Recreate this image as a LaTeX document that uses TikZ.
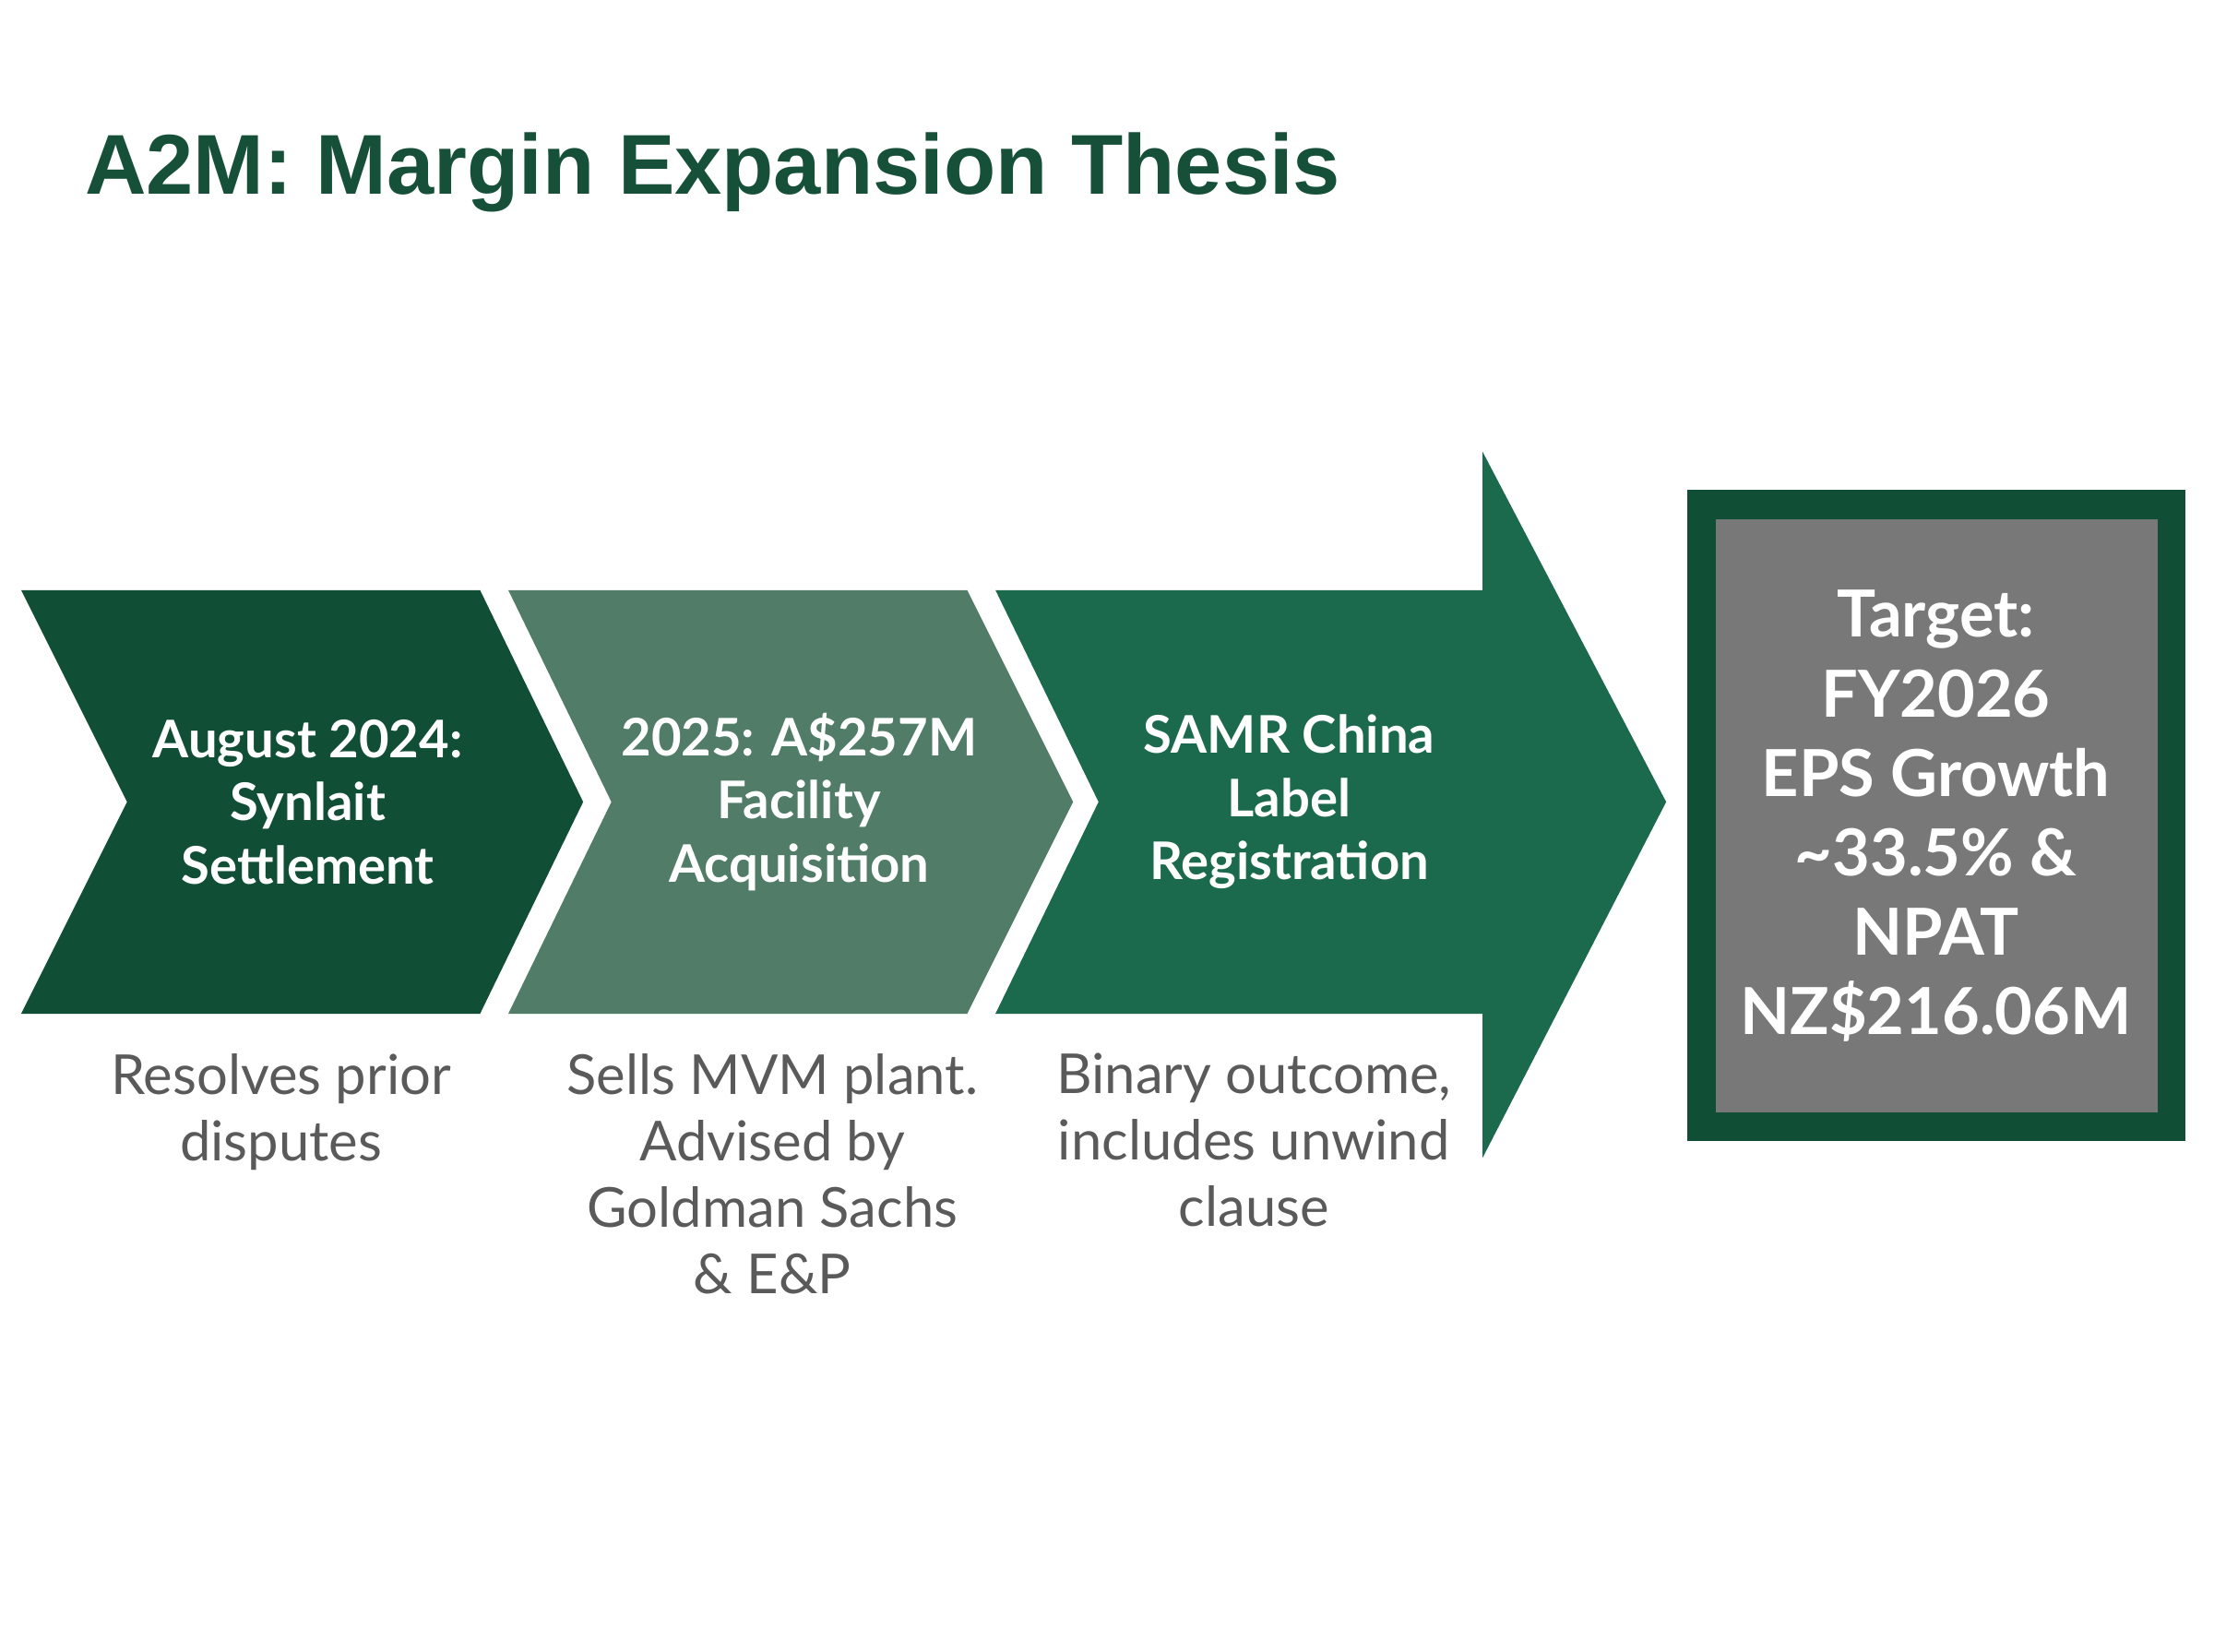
\documentclass[tikz,border=0pt]{standalone}
\usepackage{fontspec}
\setmainfont{Lato}
\newfontfamily\titlefont{Liberation Sans}
\usetikzlibrary{positioning,calc}
\definecolor{mydark}{RGB}{16,78,54}
\definecolor{mymid}{RGB}{80,124,104}
\definecolor{myarrow}{RGB}{27,106,77}
\definecolor{mytitle}{RGB}{22,80,56}
\definecolor{mygray}{RGB}{120,120,120}
\definecolor{mytext}{RGB}{90,90,90}
\begin{document}
\begin{tikzpicture}[x=0.0153cm,y=-0.0153cm,
	steplabel/.style={text=white,font=\bfseries\fontsize{16}{19.5}\selectfont,align=center},
	notelabel/.style={text=mytext,font=\fontsize{17}{20.5}\selectfont,align=center},
	targetlabel/.style={text=white,font=\bfseries\fontsize{20}{24.5}\selectfont,align=center},
	]
	\useasboundingbox (0,0) rectangle (1568,1170);

	% title
	\node[anchor=west,text=mytitle,font=\titlefont\bfseries\fontsize{26.2}{32}\selectfont] (title) at (52,122) {A2M: Margin Expansion Thesis};

	% the chevrons
	\fill[mydark] (15,418) -- (340,418) -- (413,568) -- (340,718) -- (15,718) -- (90,568) -- cycle;
	\fill[mymid] (360,418) -- (685,418) -- (760,568) -- (685,718) -- (360,718) -- (433,568) -- cycle;
	\fill[myarrow] (705,418) -- (1050,418) -- (1050,320) -- (1180,568) -- (1050,820) -- (1050,718) -- (705,718) -- (778,568) -- cycle;

	\node[steplabel] (s1) at (218,568) {August 2024:\\Synlait\\Settlement};
	\node[steplabel] (s2) at (566,568) {2025: A\$257M\\Facility\\Acquisition};
	\node[steplabel] (s3) at (913,568) {SAMR China\\Label\\Registration};

	% the notes
	\node[notelabel,anchor=north] (n1) at (199,738) {Resolves prior\\disputes};
	\node[notelabel,anchor=north] (n2) at (547,738) {Sells MVM plant.\\Advised by\\Goldman Sachs\\\& E\&P};
	\node[notelabel,anchor=north] (n3) at (888,738) {Binary outcome,\\includes unwind\\clause};

	% the target
	\fill[mydark] (1195,347) rectangle (1548,808);
	\fill[mygray] (1215,368) rectangle (1528,788);
	\node[targetlabel] (target) at (1371,578) {Target:\\FY2026\\EPS Growth\\\textasciitilde33.5\% \&\\NPAT\\NZ\$216.06M};
\end{tikzpicture}
\end{document}
